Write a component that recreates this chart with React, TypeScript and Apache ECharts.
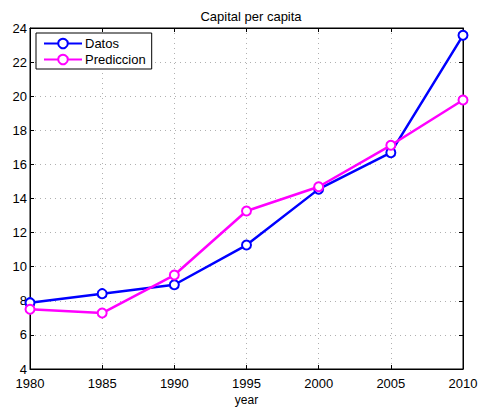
import React, { useEffect, useRef } from "react";
import * as echarts from "echarts";

const years = [1980, 1985, 1990, 1995, 2000, 2005, 2010];
const datos = [7.89, 8.42, 8.94, 11.27, 14.55, 16.69, 23.57];
const prediccion = [7.5, 7.28, 9.51, 13.27, 14.69, 17.12, 19.78];
const seriesNames = ["Datos", "Prediccion"];
const chartTitle = "Capital per capita";
const xName = "year";

const FONT = "'Liberation Sans', Arial, Helvetica, sans-serif";

export default function App() {
  const ref = useRef<HTMLDivElement>(null);
  useEffect(() => {
    if (!ref.current) return;
    const chart = echarts.init(ref.current, undefined, { renderer: "svg" });
    const pairs = (ys: number[]) => years.map((y, i) => [y, ys[i]]);
    const gridLine = { show: true, lineStyle: { color: "#b0b0b0", type: [1, 4] as any, width: 1 } };
    chart.setOption({
      animation: false,
      backgroundColor: "#ffffff",
      title: {
        text: chartTitle,
        left: 246,
        textAlign: "center",
        top: 5,
        textStyle: { fontFamily: FONT, fontSize: 13, fontWeight: "normal", color: "#000" },
      },
      grid: {
        left: 30,
        right: 15,
        top: 28,
        bottom: 40,
        outerBoundsMode: "none",
        containLabel: false,
        show: true,
        borderColor: "#000",
        borderWidth: 1,
        backgroundColor: "#fff",
      },
      legend: {
        orient: "vertical",
        left: 36,
        top: 33,
        data: seriesNames,
        backgroundColor: "#fff",
        borderColor: "#000",
        borderWidth: 1,
        borderRadius: 0,
        padding: [4, 6, 3, 7],
        itemGap: 3,
        itemWidth: 38,
        itemHeight: 12,
        textStyle: { fontFamily: FONT, fontSize: 13, color: "#000", padding: [0, 0, 0, -2] },
      },
      xAxis: [
        {
          type: "value",
          min: 1980,
          max: 2010,
          interval: 5,
          name: xName,
          nameLocation: "middle",
          nameGap: 23,
          nameTextStyle: { fontFamily: FONT, fontSize: 12, color: "#000" },
          axisLine: { show: true, lineStyle: { color: "#000", width: 1 } },
          axisTick: { show: true, inside: true, length: 4, lineStyle: { color: "#000" } },
          axisLabel: { fontFamily: FONT, fontSize: 13, lineHeight: 12, color: "#000", margin: 8, formatter: (v: number) => String(v) },
          splitLine: gridLine,
        },
        {
          type: "value",
          position: "top",
          min: 1980,
          max: 2010,
          interval: 5,
          axisLine: { show: true, lineStyle: { color: "#000", width: 1 } },
          axisTick: { show: true, inside: true, length: 4, lineStyle: { color: "#000" } },
          axisLabel: { show: false },
          splitLine: { show: false },
        },
      ],
      yAxis: [
        {
          type: "value",
          min: 4,
          max: 24,
          interval: 2,
          axisLine: { show: true, lineStyle: { color: "#000", width: 1 } },
          axisTick: { show: true, inside: true, length: 4, lineStyle: { color: "#000" } },
          axisLabel: { fontFamily: FONT, fontSize: 13, lineHeight: 12, color: "#000", margin: 3 },
          splitLine: gridLine,
        },
        {
          type: "value",
          position: "right",
          min: 4,
          max: 24,
          interval: 2,
          axisLine: { show: true, lineStyle: { color: "#000", width: 1 } },
          axisTick: { show: true, inside: true, length: 4, lineStyle: { color: "#000" } },
          axisLabel: { show: false },
          splitLine: { show: false },
        },
      ],
      series: [
        {
          name: seriesNames[0],
          type: "line",
          data: pairs(datos),
          symbol: "circle",
          symbolSize: 9,
          showAllSymbol: true,
          color: "#0000ff",
          lineStyle: { color: "#0000ff", width: 2.5 },
          itemStyle: { color: "#ffffff", borderColor: "#0000ff", borderWidth: 2 },
          z: 3,
        },
        {
          name: seriesNames[1],
          type: "line",
          data: pairs(prediccion),
          symbol: "circle",
          symbolSize: 9,
          showAllSymbol: true,
          color: "#ff00ff",
          lineStyle: { color: "#ff00ff", width: 2.5 },
          itemStyle: { color: "#ffffff", borderColor: "#ff00ff", borderWidth: 2 },
          z: 4,
        },
      ],
    });
    return () => chart.dispose();
  }, []);
  return <div ref={ref} style={{ width: 478, height: 409, position: "absolute", left: 0, top: 0 }} />;
}
